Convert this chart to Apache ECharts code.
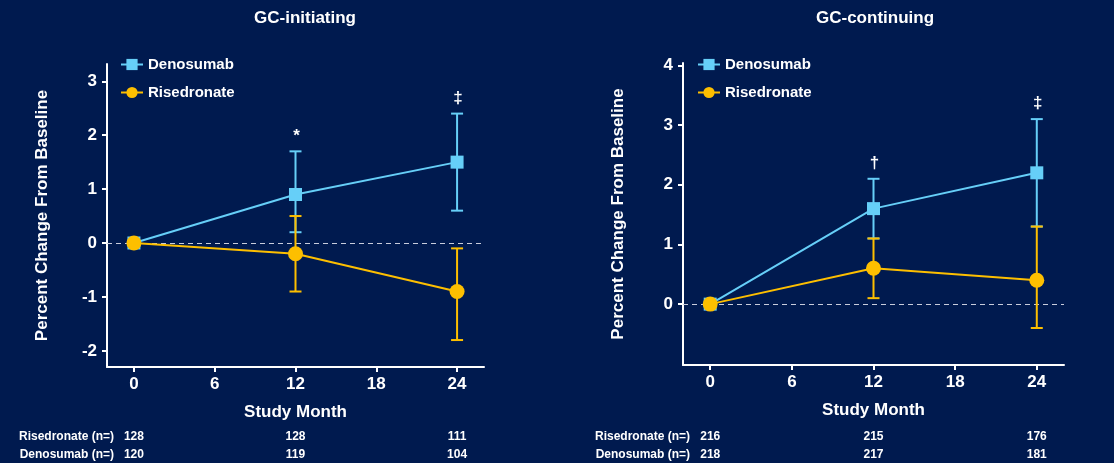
<!DOCTYPE html>
<html>
<head>
<meta charset="utf-8">
<script src="https://cdn.jsdelivr.net/npm/echarts@6/dist/echarts.min.js"></script>
<style>
html,body{margin:0;padding:0;background:#001a4f;}
#c{width:1114px;height:463px;}
</style>
</head>
<body>
<div id="c"></div>
<script>
// ---- data ----
const months = [0, 12, 24];
const xTicks = [0, 6, 12, 18, 24];
const initYTicks = [-2, -1, 0, 1, 2, 3];
const contYTicks = [0, 1, 2, 3, 4];

const initDeno = [0, 0.9, 1.5];
const initDenoLo = [0, 0.2, 0.6];
const initDenoHi = [0, 1.7, 2.4];
const initRise = [0, -0.2, -0.9];
const initRiseLo = [0, -0.9, -1.8];
const initRiseHi = [0, 0.5, -0.1];
const initSig = ['', '*', '‡'];

const contDeno = [0, 1.6, 2.2];
const contDenoLo = [0, 1.1, 1.3];
const contDenoHi = [0, 2.1, 3.1];
const contRise = [0, 0.6, 0.4];
const contRiseLo = [0, 0.1, -0.4];
const contRiseHi = [0, 1.1, 1.3];
const contSig = ['', '†', '‡'];

const initNRise = [128, 128, 111];
const initNDeno = [120, 119, 104];
const contNRise = [216, 215, 176];
const contNDeno = [218, 217, 181];

// ---- style ----
const BLUE = '#66cff8';
const GOLD = '#fdbf00';
const WHITE = '#ffffff';
const FONT = 'Liberation Sans, Arial, sans-serif';

function pairs(vals) { return months.map((m, i) => [m, vals[i]]); }
function errData(lo, hi, sig) { return months.map((m, i) => [m, lo[i], hi[i], sig ? sig[i] : '']); }

function errSeries(name, lo, hi, sig, color, gi) {
  return {
    type: 'custom', name: name + ' err', xAxisIndex: gi, yAxisIndex: gi,
    silent: true, animation: false, legendHoverLink: false,
    data: errData(lo, hi, sig),
    encode: { x: 0, y: [1, 2] },
    renderItem: function (params, api) {
      const x = api.value(0), l = api.value(1), h = api.value(2);
      const s = sig ? sig[params.dataIndex] : '';
      const children = [];
      if (l !== h) {
        const p0 = api.coord([x, l]);
        const p1 = api.coord([x, h]);
        const st = { stroke: color, lineWidth: 2 };
        children.push({ type: 'line', shape: { x1: p0[0], y1: p0[1], x2: p1[0], y2: p1[1] }, style: st });
        children.push({ type: 'line', shape: { x1: p0[0] - 6, y1: p0[1], x2: p0[0] + 6, y2: p0[1] }, style: st });
        children.push({ type: 'line', shape: { x1: p1[0] - 6, y1: p1[1], x2: p1[0] + 6, y2: p1[1] }, style: st });
        if (s) {
          children.push({ type: 'text', style: { text: s, x: p1[0] + 1, y: p1[1] - 7, fill: WHITE,
            font: 'bold 17px ' + FONT, align: 'center', verticalAlign: 'bottom' } });
        }
      }
      return { type: 'group', children: children };
    }
  };
}

function lineSeries(name, vals, color, symbol, size, gi, withZero) {
  const s = {
    type: 'line', name: name, xAxisIndex: gi, yAxisIndex: gi,
    data: pairs(vals), symbol: symbol, symbolSize: size, showSymbol: true,
    itemStyle: { color: color }, lineStyle: { color: color, width: 2 },
    emphasis: { disabled: true }, animation: false, z: 3
  };
  if (withZero) {
    s.markLine = {
      silent: true, symbol: 'none', label: { show: false },
      lineStyle: { color: '#c9cddc', width: 1, type: [5, 4] },
      data: [{ yAxis: 0 }], z: 1
    };
  }
  return s;
}

function mainX(gi) {
  return {
    type: 'value', gridIndex: gi, min: -2, max: 26, position: 'bottom',
    name: 'Study Month', nameLocation: 'middle', nameGap: 37,
    nameTextStyle: { color: WHITE, fontFamily: FONT, fontWeight: 'bold', fontSize: 17 },
    axisLine: { onZero: false, lineStyle: { color: WHITE, width: 2 } },
    axisTick: { customValues: xTicks, length: 5, lineStyle: { color: WHITE, width: 2 } },
    axisLabel: { customValues: xTicks, color: WHITE, fontFamily: FONT, fontWeight: 'bold', fontSize: 17, margin: 9 },
    splitLine: { show: false }
  };
}
function nX(gi, rowName, arr, off) {
  return {
    type: 'value', gridIndex: gi, min: -2, max: 26, position: 'bottom', offset: off,
    name: rowName, nameLocation: 'start', nameGap: -7,
    nameTextStyle: { color: WHITE, fontFamily: FONT, fontWeight: 'bold', fontSize: 12, align: 'right', verticalAlign: 'middle' },
    axisLine: { show: false, onZero: false }, axisTick: { show: false }, splitLine: { show: false },
    axisLabel: { customValues: months, margin: 0, verticalAlign: 'middle', color: WHITE,
      fontFamily: FONT, fontWeight: 'bold', fontSize: 12,
      formatter: function (v) { const i = months.indexOf(v); return i >= 0 ? String(arr[i]) : ''; } }
  };
}
function mainY(gi, min, max, ticks) {
  return {
    type: 'value', gridIndex: gi, min: min, max: max, position: 'left',
    name: 'Percent Change From Baseline', nameLocation: 'middle', nameGap: 56,
    nameTextStyle: { color: WHITE, fontFamily: FONT, fontWeight: 'bold', fontSize: 17 },
    axisLine: { show: true, onZero: false, lineStyle: { color: WHITE, width: 2 } },
    axisTick: { show: true, customValues: ticks, length: 5, lineStyle: { color: WHITE, width: 2 } },
    axisLabel: { customValues: ticks, color: WHITE, fontFamily: FONT, fontWeight: 'bold', fontSize: 17, margin: 10 },
    splitLine: { show: false }
  };
}
function legend(left) {
  return {
    left: left, top: 57, padding: 0, orient: 'vertical', itemGap: 13, itemWidth: 22, itemHeight: 14,
    data: ['Denosumab', 'Risedronate'], selectedMode: false,
    textStyle: { color: WHITE, fontFamily: FONT, fontWeight: 'bold', fontSize: 15 }
  };
}

const chart = echarts.init(document.getElementById('c'));
chart.setOption({
  backgroundColor: '#001a4f',
  animation: false,
  title: [
    { text: 'GC-initiating', left: 249, top: 5, textStyle: { color: WHITE, fontFamily: FONT, fontWeight: 'bold', fontSize: 17 } },
    { text: 'GC-continuing', left: 811, top: 5, textStyle: { color: WHITE, fontFamily: FONT, fontWeight: 'bold', fontSize: 17 } }
  ],
  legend: [legend(120), legend(697)],
  grid: [
    { left: 107, top: 64, width: 377, height: 303 },
    { left: 683, top: 63, width: 381, height: 302 }
  ],
  xAxis: [
    mainX(0), mainX(1),
    nX(0, 'Risedronate (n=)', initNRise, 70), nX(0, 'Denosumab (n=)', initNDeno, 88),
    nX(1, 'Risedronate (n=)', contNRise, 72), nX(1, 'Denosumab (n=)', contNDeno, 90)
  ],
  yAxis: [
    mainY(0, -2.3, 3.32, initYTicks),
    mainY(1, -1.02, 4.04, contYTicks)
  ],
  series: [
    errSeries('Denosumab', initDenoLo, initDenoHi, initSig, BLUE, 0),
    lineSeries('Denosumab', initDeno, BLUE, 'rect', 13, 0, true),
    errSeries('Risedronate', initRiseLo, initRiseHi, null, GOLD, 0),
    lineSeries('Risedronate', initRise, GOLD, 'circle', 15, 0, false),
    errSeries('Denosumab', contDenoLo, contDenoHi, contSig, BLUE, 1),
    lineSeries('Denosumab', contDeno, BLUE, 'rect', 13, 1, true),
    errSeries('Risedronate', contRiseLo, contRiseHi, null, GOLD, 1),
    lineSeries('Risedronate', contRise, GOLD, 'circle', 15, 1, false)
  ]
});
</script>
</body>
</html>
